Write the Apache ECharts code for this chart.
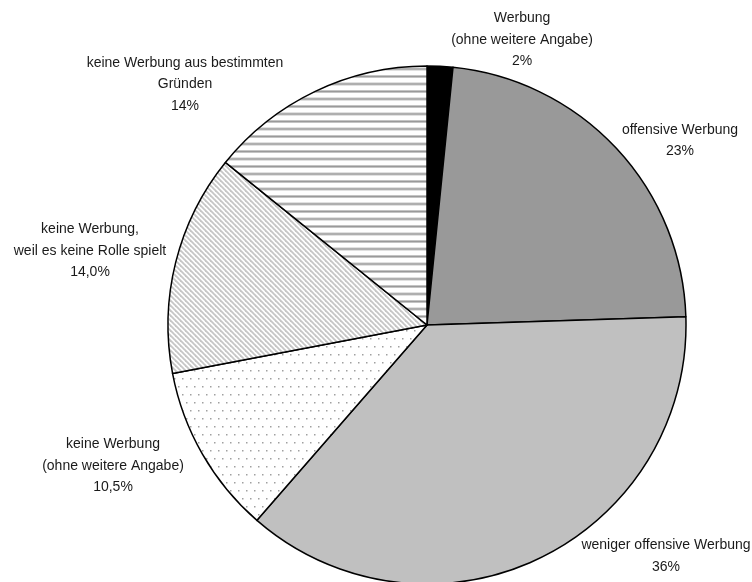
<!DOCTYPE html>
<html>
<head>
<meta charset="utf-8">
<script src="https://cdn.jsdelivr.net/npm/echarts@6/dist/echarts.min.js"></script>
<style>
html,body{margin:0;padding:0;background:#fff;}
#chart{width:752px;height:582px;}
</style>
</head>
<body>
<div id="chart"></div>
<script>
// ---- data ----
var categories = [
  'Werbung\n(ohne weitere Angabe)',
  'offensive Werbung',
  'weniger offensive Werbung',
  'keine Werbung\n(ohne weitere Angabe)',
  'keine Werbung,\nweil es keine Rolle spielt',
  'keine Werbung aus bestimmten\nGründen'
];
var values = [1.6, 22.9, 36.9, 10.6, 13.8, 14.2];
// percentages as printed in the labels
var valueLabels = ['2%', '23%', '36%', '10,5%', '14,0%', '14%'];

// ---- label placement (style, not data) ----
var labelPos = [[522, 40], [680, 140.5], [666, 556], [113, 466], [90, 251], [185, 84.5]];

function makeTile(w, h, draw) {
  var c = document.createElement('canvas');
  c.width = w; c.height = h;
  var ctx = c.getContext('2d');
  ctx.fillStyle = '#ffffff';
  ctx.fillRect(0, 0, w, h);
  draw(ctx);
  return { image: c, repeat: 'repeat' };
}
var stripes = makeTile(4, 15, function (ctx) {
  ctx.fillStyle = '#c4c4c4';
  ctx.fillRect(0, 0, 4, 3);
  ctx.fillRect(0, 7.5, 4, 3);
  ctx.fillStyle = '#9a9a9a';
  ctx.fillRect(0, 1, 4, 1);
  ctx.fillRect(0, 8.5, 4, 1);
});
var diag = makeTile(5, 5, function (ctx) {
  ctx.strokeStyle = '#c6c6c6';
  ctx.lineWidth = 1.8;
  for (var k = -5; k <= 5; k += 5) {
    ctx.beginPath();
    ctx.moveTo(k - 1, -1);
    ctx.lineTo(k + 6, 6);
    ctx.stroke();
  }
});
var dots = makeTile(8, 16, function (ctx) {
  ctx.fillStyle = '#a0a0a0';
  ctx.fillRect(2, 2, 1.5, 1.5);
  ctx.fillRect(6, 10, 1.5, 1.5);
});

var fills = ['#000000', '#999999', '#c0c0c0', dots, diag, stripes];

var chart = echarts.init(document.getElementById('chart'), null, { renderer: 'canvas' });
chart.setOption({
  animation: false,
  backgroundColor: '#ffffff',
  series: [{
    type: 'pie',
    center: [427, 325],
    radius: 259,
    startAngle: 90,
    clockwise: true,
    silent: true,
    avoidLabelOverlap: false,
    itemStyle: { borderColor: '#000', borderWidth: 1.5 },
    label: {
      show: true,
      position: 'outside',
      fontFamily: 'Liberation Sans, Arial, sans-serif',
      fontSize: 14,
      lineHeight: 21.5,
      color: '#1a1a1a',
      align: 'center',
      formatter: function (p) { return categories[p.dataIndex] + '\n' + valueLabels[p.dataIndex]; }
    },
    labelLine: { show: false },
    labelLayout: function (p) {
      var pos = labelPos[p.dataIndex];
      return { x: pos[0], y: pos[1], align: 'center', verticalAlign: 'middle', hideOverlap: false };
    },
    data: values.map(function (v, i) {
      return { name: categories[i], value: v, itemStyle: { color: fills[i] } };
    })
  }]
});
</script>
</body>
</html>
